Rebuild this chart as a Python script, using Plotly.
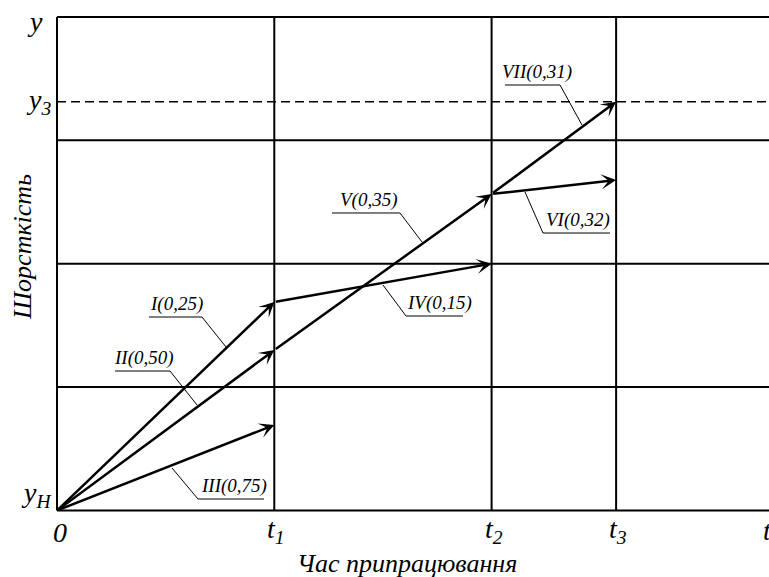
import plotly.graph_objects as go

# ---------------- data ----------------
t_labels = ["t<sub>1</sub>", "t<sub>2</sub>", "t<sub>3</sub>"]
t_values = [1.0, 2.0, 2.573]
y_grid = [1, 2, 3, 4]
y_H = 0.0
y_3 = 3.313

stage_labels = ["I(0,25)", "II(0,50)", "III(0,75)", "IV(0,15)",
                "V(0,35)", "VI(0,32)", "VII(0,31)"]
start_t = [0.0, 0.0, 0.0, 1.0, 1.0, 2.0, 2.0]
start_y = [0.0, 0.0, 0.0, 1.69, 1.30, 2.565, 2.565]
end_t = [1.0, 1.0, 1.0, 2.0, 2.0, 2.573, 2.573]
end_y = [1.69, 1.30, 0.693, 2.0, 2.565, 2.678, 3.313]

# ---------------- layout helpers (pixel -> axis units) ----------------
W, H = 769, 577
X0, XU = 57.0, 217.3      # pixel of t=0, pixels per t unit
Y0, YU = 510.5, 123.4     # pixel of y_H, pixels per y unit


def X(px):
    return (px - X0) / XU


def Y(py):
    return (Y0 - py) / YU


x_min, x_max = X(0), X(W)
y_min, y_max = Y(H), Y(0)

FONT = "Liberation Serif, Times New Roman, serif"

# label callouts: (text center px, underline px) and leader polylines px
label_pos = [(176, 317), (144, 371), (234, 499), (439, 316),
             (369, 213), (578, 233), (537, 85)]
leaders = [
    [(149, 317), (202, 317), (226, 347)],
    [(115, 371), (170, 371), (197, 405)],
    [(172, 468), (198, 499), (264, 499)],
    [(383, 285), (406, 316), (463, 316)],
    [(332, 213), (400, 213), (422, 242)],
    [(525, 192), (543, 233), (610, 233)],
    [(505, 85), (560, 85), (582, 125)],
]

shapes = []
line_k = dict(color="black", width=2)
shapes.append(dict(type="line", xref="x", yref="y", x0=0, x1=0, y0=y_H, y1=y_grid[-1], line=line_k))
shapes.append(dict(type="line", xref="x", yref="y", x0=0, x1=x_max, y0=y_H, y1=y_H, line=line_k))
for g in y_grid:
    shapes.append(dict(type="line", xref="x", yref="y", x0=0, x1=x_max, y0=g, y1=g, line=line_k))
for tv in t_values:
    shapes.append(dict(type="line", xref="x", yref="y", x0=tv, x1=tv, y0=y_H, y1=y_grid[-1], line=line_k))
shapes.append(dict(type="line", xref="x", yref="y", x0=0, x1=x_max, y0=y_3, y1=y_3,
                   line=dict(color="black", width=1.5, dash="9px,5px")))
for pts in leaders:
    path = "M " + " L ".join(f"{X(px):.4f},{Y(py):.4f}" for px, py in pts)
    shapes.append(dict(type="path", xref="x", yref="y", path=path,
                       line=dict(color="black", width=1)))

annotations = []
for i in range(len(stage_labels)):
    annotations.append(dict(
        x=end_t[i], y=end_y[i], ax=start_t[i], ay=start_y[i],
        xref="x", yref="y", axref="x", ayref="y", text="",
        showarrow=True, arrowhead=3, arrowsize=1.0, arrowwidth=2.5,
        arrowcolor="black", standoff=0, startstandoff=0))
for lab, (cx, uy) in zip(stage_labels, label_pos):
    annotations.append(dict(
        x=X(cx), y=Y(uy), xref="x", yref="y", text=f"<i>{lab}</i>",
        showarrow=False, xanchor="center", yanchor="bottom",
        font=dict(family=FONT, size=19, color="black")))

big = dict(family=FONT, size=28, color="black")
annotations.append(dict(x=X(35), y=Y(21), xref="x", yref="y", text="<i>y</i>",
                        showarrow=False, font=big))
annotations.append(dict(x=X(38), y=y_3, xref="x", yref="y", text="<i>y<sub>3</sub></i>",
                        showarrow=False, font=big))
annotations.append(dict(x=X(36), y=y_H, xref="x", yref="y", text="<i>y<sub>Н</sub></i>",
                        showarrow=False, font=big, yshift=16))
annotations.append(dict(x=0, y=y_H, xref="x", yref="y", text="<i>0</i>",
                        showarrow=False, font=big, xshift=3, yshift=-22))
for lab, tv in zip(t_labels, t_values):
    annotations.append(dict(x=tv, y=y_H, xref="x", yref="y", text=f"<i>{lab}</i>",
                            showarrow=False, font=big, xshift=2, yshift=-20))
annotations.append(dict(x=X(761), y=y_H, xref="x", yref="y", text="<i>t</i>",
                        showarrow=False, font=big, xanchor="left", yshift=-20))
annotations.append(dict(x=X(407), y=Y(563), xref="x", yref="y",
                        text="<i>Час припрацювання</i>", showarrow=False,
                        font=dict(family=FONT, size=26, color="black")))
annotations.append(dict(x=X(22), y=Y(247), xref="x", yref="y",
                        text="<i>Шорсткість</i>", showarrow=False, textangle=-90,
                        font=dict(family=FONT, size=26, color="black")))

fig = go.Figure()
fig.update_layout(
    width=W, height=H,
    margin=dict(l=0, r=0, t=0, b=0),
    paper_bgcolor="white", plot_bgcolor="white",
    font=dict(family=FONT),
    xaxis=dict(range=[x_min, x_max], visible=False, fixedrange=True),
    yaxis=dict(range=[y_min, y_max], visible=False, fixedrange=True),
    shapes=shapes, annotations=annotations, showlegend=False,
)
fig.write_html("out.html", config={"displayModeBar": False, "staticPlot": True})

with open("out.html", encoding="utf-8") as f:
    html = f.read()
html = html.replace("<head>", "<head><style>html,body{margin:0;padding:0;overflow:hidden;}</style>", 1)
with open("out.html", "w", encoding="utf-8") as f:
    f.write(html)
